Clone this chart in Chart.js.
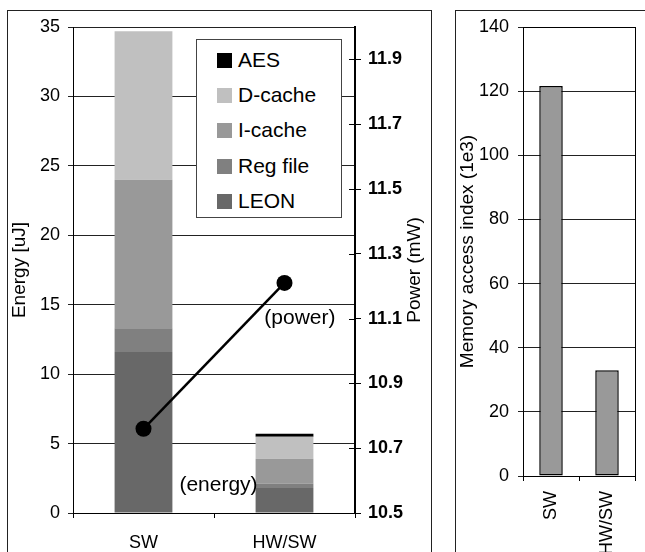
<!DOCTYPE html>
<html>
<head>
<meta charset="utf-8">
<script src="https://cdn.jsdelivr.net/npm/chart.js@4"></script>
<style>
    body { margin: 0; background: #fff; width: 645px; height: 552px; overflow: hidden; position: relative; font-family: "Liberation Sans", Arial, sans-serif; }
    .frame { position: absolute; border: 1px solid #222; box-sizing: border-box; }
    canvas { position: absolute; }
    #legend { position: absolute; left: 196px; top: 39px; width: 146px; height: 179px; box-sizing: border-box; border: 1px solid #444; background: #fff; padding-top: 2px; }
    #legend .row { height: 35.2px; line-height: 35.2px; font-size: 21px; color: #000; white-space: nowrap; }
    #legend .box { display: inline-block; width: 15px; height: 15px; margin-left: 20px; margin-right: 6px; vertical-align: -1px; }
</style>
</head>
<body>
<div class="frame" style="left:7px;top:10px;width:425px;height:562px;"></div>
<canvas id="energy-chart" width="423" height="558" style="left:8px;top:11px;"></canvas>
<div id="legend"></div>
<div class="frame" style="left:455px;top:10px;width:200px;height:562px;"></div>
<canvas id="mem-chart" width="198" height="558" style="left:456px;top:11px;"></canvas>
<script>
const categories = ['SW', 'HW/SW'];
const leon = [11.6, 1.8];
const regFile = [1.7, 0.3];
const iCache = [10.7, 1.8];
const dCache = [10.7, 1.6];
const aes = [0, 0.2];
const power = [10.76, 11.21];
const powerTicks = [10.5, 10.7, 10.9, 11.1, 11.3, 11.5, 11.7, 11.9];
const memAccess = [121.6, 33.0];

const FONT = '"Liberation Sans", Arial, sans-serif';
Chart.defaults.font.family = FONT;
Chart.defaults.color = '#000';

const bars = [
    { label: 'LEON', data: leon, color: '#686868' },
    { label: 'Reg file', data: regFile, color: '#808080' },
    { label: 'I-cache', data: iCache, color: '#999999' },
    { label: 'D-cache', data: dCache, color: '#c0c0c0' },
    { label: 'AES', data: aes, color: '#000000' }
];

// fixed axis width, and no extra room for the end labels
function fixWidth(w) {
    return scale => {
        scale.width = w;
        scale.paddingTop = 0;
        scale.paddingBottom = 0;
    };
}

// inner half of the crossing ticks on the power axis, its title, and the annotation texts
const energyExtras = {
    id: 'energyExtras',
    afterDatasetsDraw(chart) {
        const ctx = chart.ctx;
        const y1 = chart.scales.y1;
        ctx.save();
        ctx.strokeStyle = '#000';
        ctx.lineWidth = 1;
        y1.ticks.forEach(t => {
            const py = Math.round(y1.getPixelForValue(t.value)) + 0.5;
            ctx.beginPath();
            ctx.moveTo(y1.left - 6, py);
            ctx.lineTo(y1.left, py);
            ctx.stroke();
        });
        ctx.fillStyle = '#000';

        ctx.save();
        ctx.font = '19px ' + FONT;
        ctx.translate(y1.right - 16, (chart.chartArea.top + chart.chartArea.bottom) / 2);
        ctx.rotate(-Math.PI / 2);
        ctx.textAlign = 'center';
        ctx.textBaseline = 'middle';
        ctx.fillText('Power (mW)', 0, 0);
        ctx.restore();

        ctx.font = '21px ' + FONT;
        ctx.textBaseline = 'middle';
        ctx.textAlign = 'right';
        const pt = chart.getDatasetMeta(5).data[1];
        ctx.fillText('(power)', pt.x + 51, pt.y + 35);
        const bar = chart.getDatasetMeta(0).data[1];
        ctx.fillText('(energy)', bar.x - bar.width / 2 + 2, chart.scales.y.getPixelForValue(2));
        ctx.restore();
    }
};

new Chart(document.getElementById('energy-chart'), {
    type: 'bar',
    data: {
        labels: categories,
        datasets: [
            ...bars.map(b => ({
                label: b.label,
                data: b.data,
                backgroundColor: b.color,
                borderWidth: 0,
                barPercentage: 0.41,
                categoryPercentage: 1,
                yAxisID: 'y',
                order: 1
            })),
            {
                type: 'line',
                label: 'power',
                data: power,
                yAxisID: 'y1',
                borderColor: '#000',
                borderWidth: 2.5,
                pointRadius: 8,
                pointBackgroundColor: '#000',
                pointBorderWidth: 0,
                order: 0
            }
        ]
    },
    options: {
        responsive: false,
        animation: false,
        layout: { padding: { top: 16, left: 0, right: 0, bottom: 0 } },
        plugins: { legend: { display: false }, tooltip: { enabled: false } },
        scales: {
            x: {
                stacked: true,
                grid: { offset: true, drawOnChartArea: false, drawTicks: true, tickLength: 5, color: '#000' },
                border: { display: true, color: '#000' },
                ticks: { font: { size: 18 }, padding: 14, color: '#000' },
                afterFit(scale) { scale.height = 56; }
            },
            y: {
                stacked: true,
                min: 0,
                max: 35,
                ticks: { stepSize: 5, font: { size: 18 }, padding: 8, color: '#000' },
                grid: { color: '#222', tickLength: 5 },
                border: { display: true, color: '#000' },
                title: { display: true, text: 'Energy [uJ]', font: { size: 19 }, padding: 0 },
                afterFit: fixWidth(65)
            },
            y1: {
                position: 'right',
                min: 10.5,
                max: 12,
                afterBuildTicks(scale) { scale.ticks = powerTicks.map(v => ({ value: v })); },
                ticks: { font: { size: 18, weight: 'bold' }, padding: 7, color: '#000', callback: v => v.toFixed(1) },
                grid: { drawOnChartArea: false, tickLength: 6, color: '#000' },
                border: { display: true, color: '#000', width: 2 },
                afterFit: fixWidth(76)
            }
        }
    },
    plugins: [energyExtras]
});

// legend, top entry is the top of the stack
const legend = document.getElementById('legend');
bars.slice().reverse().forEach(b => {
    const row = document.createElement('div');
    row.className = 'row';
    row.innerHTML = `<span class="box" style="background:${b.color}"></span>${b.label}`;
    legend.appendChild(row);
});

const plotFrame = {
    id: 'plotFrame',
    afterDraw(chart) {
        const a = chart.chartArea;
        const ctx = chart.ctx;
        ctx.save();
        ctx.strokeStyle = '#000';
        ctx.lineWidth = 1;
        ctx.strokeRect(Math.round(a.left) + 0.5, Math.round(a.top) + 0.5, Math.round(a.right - a.left), Math.round(a.bottom - a.top));
        ctx.restore();
    }
};

new Chart(document.getElementById('mem-chart'), {
    type: 'bar',
    data: {
        labels: categories,
        datasets: [{
            label: 'Memory access index',
            data: memAccess,
            backgroundColor: '#999999',
            borderColor: '#000',
            borderWidth: 1.5,
            borderSkipped: false,
            barPercentage: 0.42,
            categoryPercentage: 1
        }]
    },
    options: {
        responsive: false,
        animation: false,
        layout: { padding: { top: 16, right: 19 } },
        plugins: { legend: { display: false }, tooltip: { enabled: false } },
        scales: {
            x: {
                grid: { offset: true, drawOnChartArea: false, tickLength: 5, color: '#000' },
                border: { display: true, color: '#000' },
                ticks: { font: { size: 18 }, padding: 10, minRotation: 90, maxRotation: 90, color: '#000' },
                afterFit(scale) { scale.height = 93; }
            },
            y: {
                min: 0,
                max: 140,
                ticks: { stepSize: 20, font: { size: 18 }, padding: 9, color: '#000' },
                grid: { color: '#222', tickLength: 5 },
                border: { display: true, color: '#000' },
                title: { display: true, text: 'Memory access index (1e3)', font: { size: 19 }, padding: 0 },
                afterFit: fixWidth(67)
            }
        }
    },
    plugins: [plotFrame]
});
</script>
</body>
</html>
